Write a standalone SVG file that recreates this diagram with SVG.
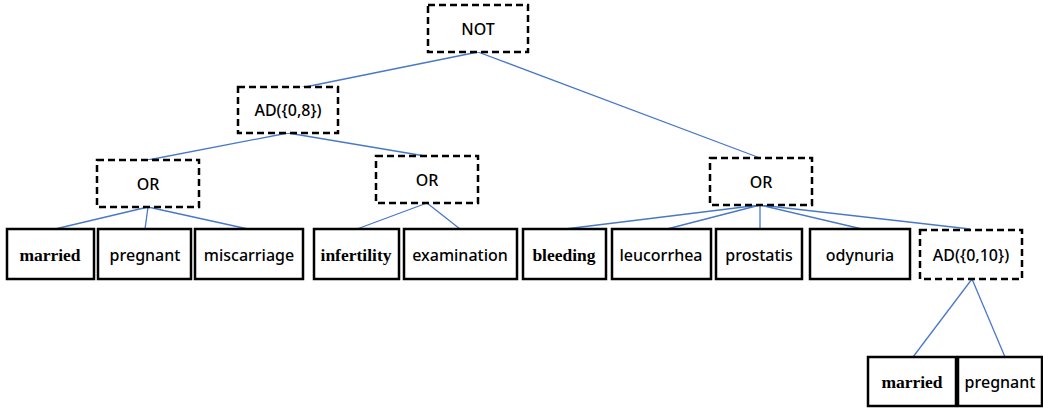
<svg xmlns="http://www.w3.org/2000/svg" width="1043" height="412" viewBox="0 0 1043 412">
<style>
.g{fill:#fff;stroke:#000;stroke-width:2.5;stroke-dasharray:7 4}
.b{fill:#fff;stroke:#000;stroke-width:2.5}
.s{font-family:"Noto Sans","Open Sans",sans-serif;font-size:16px;font-weight:500;fill:#000;text-anchor:middle}
.f{font-family:"Liberation Serif",serif;font-weight:bold;font-size:17.5px;fill:#000;text-anchor:middle}
.e{stroke:#4a78c8;stroke-width:1.3;fill:none}
</style>
<g id="connectors">
<line class="e" x1="478" y1="52" x2="300" y2="88"/>
<line class="e" x1="478" y1="52" x2="760" y2="158"/>
<line class="e" x1="288" y1="133" x2="148" y2="160"/>
<line class="e" x1="288" y1="133" x2="425" y2="156"/>
<line class="e" x1="148" y1="207" x2="55" y2="229"/>
<line class="e" x1="148" y1="207" x2="145" y2="229"/>
<line class="e" x1="148" y1="207" x2="248" y2="229"/>
<line class="e" x1="427" y1="203" x2="357" y2="229"/>
<line class="e" x1="427" y1="203" x2="460" y2="229"/>
<line class="e" x1="760" y1="205" x2="565" y2="229"/>
<line class="e" x1="760" y1="205" x2="667" y2="229"/>
<line class="e" x1="760" y1="205" x2="760" y2="229"/>
<line class="e" x1="760" y1="205" x2="862" y2="229"/>
<line class="e" x1="760" y1="205" x2="970" y2="229"/>
<line class="e" x1="972" y1="279" x2="913" y2="357"/>
<line class="e" x1="972" y1="279" x2="1005" y2="357"/>
</g>
<g id="not"><rect class="g" x="428" y="5" width="100" height="47"/><text class="s" x="478" y="35">NOT</text></g>
<g id="ad8"><rect class="g" x="238" y="87" width="100" height="46"/><text class="s" x="288" y="116">AD({0,8})</text></g>
<g id="or1"><rect class="g" x="97" y="160" width="102" height="47"/><text class="s" x="148" y="190">OR</text></g>
<g id="or2"><rect class="g" x="376" y="156" width="102" height="47"/><text class="s" x="427" y="186">OR</text></g>
<g id="or3"><rect class="g" x="710" y="158" width="102" height="47"/><text class="s" x="761" y="188">OR</text></g>
<g id="married1"><rect class="b" x="7" y="229" width="87" height="50"/><text class="f" x="50" y="261">married</text></g>
<g id="pregnant1"><rect class="b" x="98" y="229" width="93" height="50"/><text class="s" x="145" y="261">pregnant</text></g>
<g id="miscarriage"><rect class="b" x="195" y="229" width="108" height="50"/><text class="s" x="249" y="261">miscarriage</text></g>
<g id="infertility"><rect class="b" x="314" y="229" width="85" height="50"/><text class="f" x="356" y="261">infertility</text></g>
<g id="examination"><rect class="b" x="404" y="229" width="113" height="50"/><text class="s" x="460" y="261">examination</text></g>
<g id="bleeding"><rect class="b" x="523" y="229" width="83" height="50"/><text class="f" x="564" y="261">bleeding</text></g>
<g id="leucorrhea"><rect class="b" x="612" y="229" width="99" height="50"/><text class="s" x="661" y="261">leucorrhea</text></g>
<g id="prostatis"><rect class="b" x="716" y="229" width="86" height="50"/><text class="s" x="759" y="261">prostatis</text></g>
<g id="odynuria"><rect class="b" x="810" y="229" width="100" height="50"/><text class="s" x="860" y="261">odynuria</text></g>
<g id="ad10"><rect class="g" x="920" y="230" width="102" height="49"/><text class="s" x="971" y="261">AD({0,10})</text></g>
<g id="married2"><rect class="b" x="868" y="357" width="88" height="49"/><text class="f" x="912" y="388">married</text></g>
<g id="pregnant2"><rect class="b" x="958" y="357" width="84" height="49"/><text class="s" x="1000" y="388">pregnant</text></g>
</svg>
